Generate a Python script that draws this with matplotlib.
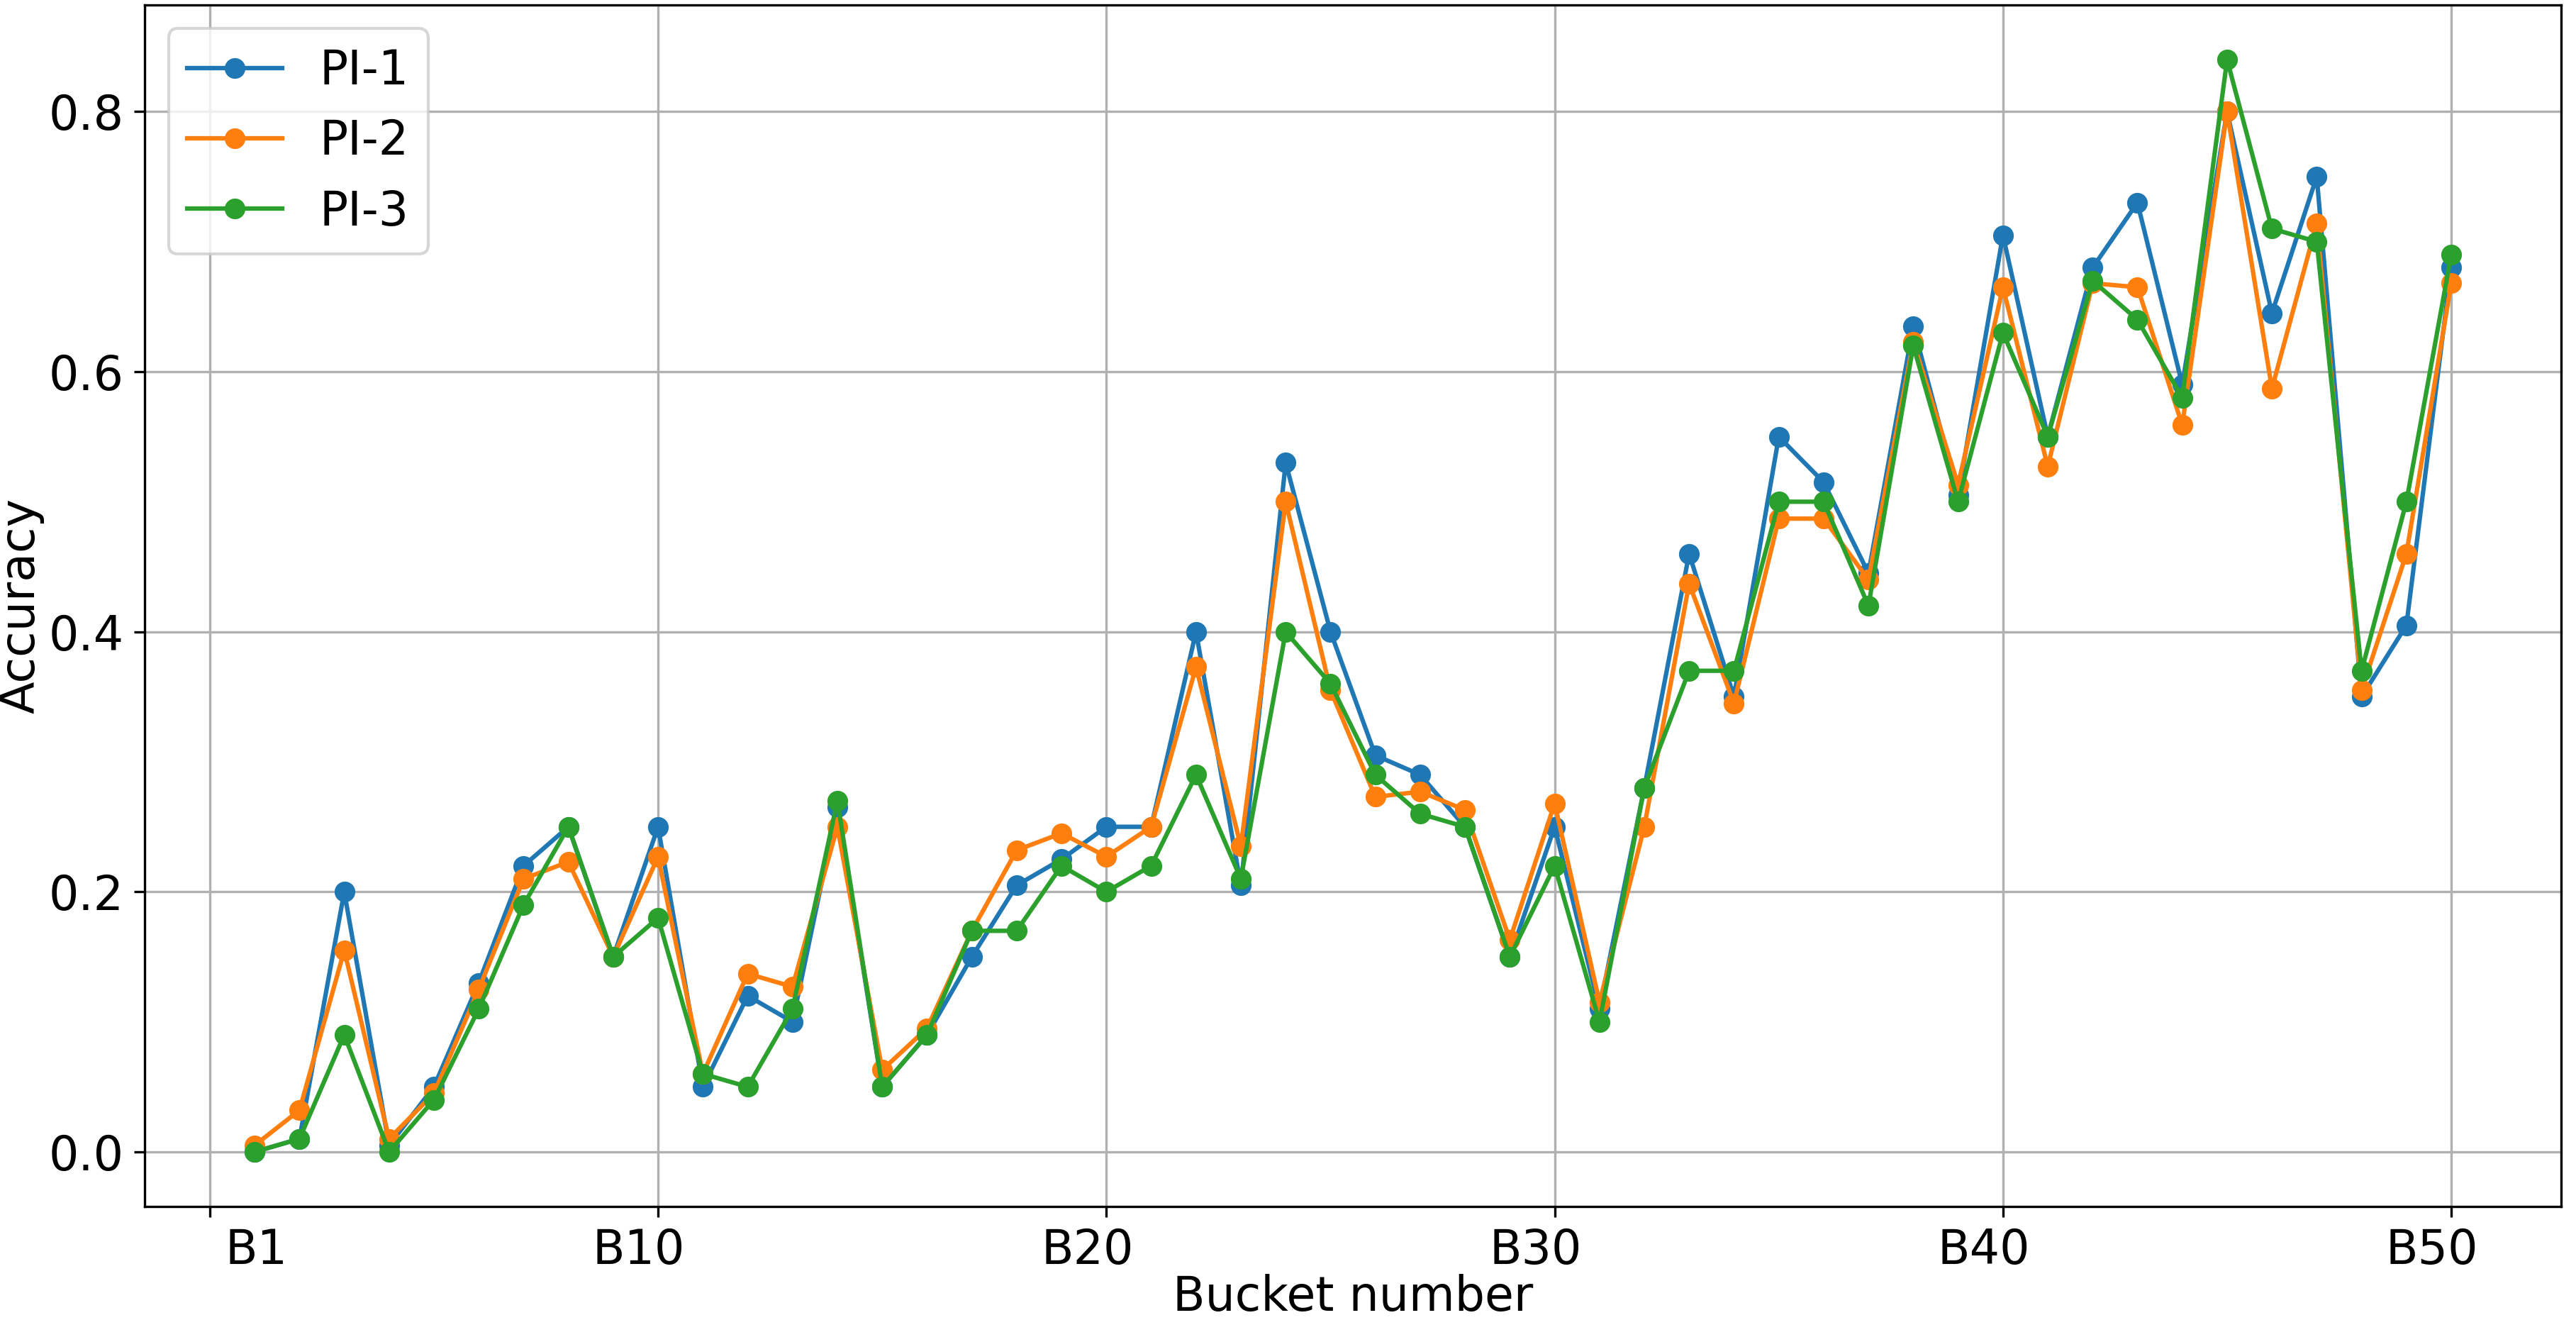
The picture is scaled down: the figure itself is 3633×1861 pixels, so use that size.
import matplotlib
matplotlib.use('Agg')
import matplotlib.pyplot as plt
import matplotlib.transforms as mtransforms

# bucket indices and accuracies
buckets = list(range(1, 51))

pi_1 = [0.0, 0.01, 0.20, 0.005, 0.05, 0.13, 0.22, 0.25, 0.15, 0.25,
        0.05, 0.12, 0.10, 0.265, 0.05, 0.09, 0.15, 0.205, 0.225, 0.25,
        0.25, 0.40, 0.205, 0.53, 0.40, 0.305, 0.29, 0.25, 0.15, 0.25,
        0.11, 0.28, 0.46, 0.35, 0.55, 0.515, 0.445, 0.635, 0.505, 0.705,
        0.55, 0.68, 0.73, 0.59, 0.80, 0.645, 0.75, 0.35, 0.405, 0.68]

pi_2 = [0.005, 0.032, 0.155, 0.01, 0.045, 0.125, 0.21, 0.223, 0.15, 0.227,
        0.06, 0.137, 0.127, 0.25, 0.063, 0.095, 0.17, 0.232, 0.245, 0.227,
        0.25, 0.373, 0.235, 0.50, 0.355, 0.273, 0.277, 0.263, 0.163, 0.268,
        0.115, 0.25, 0.437, 0.345, 0.487, 0.487, 0.44, 0.623, 0.513, 0.665,
        0.527, 0.668, 0.665, 0.559, 0.80, 0.587, 0.714, 0.355, 0.46, 0.668]

pi_3 = [0.0, 0.01, 0.09, 0.0, 0.04, 0.11, 0.19, 0.25, 0.15, 0.18,
        0.06, 0.05, 0.11, 0.27, 0.05, 0.09, 0.17, 0.17, 0.22, 0.20,
        0.22, 0.29, 0.21, 0.40, 0.36, 0.29, 0.26, 0.25, 0.15, 0.22,
        0.10, 0.28, 0.37, 0.37, 0.50, 0.50, 0.42, 0.62, 0.50, 0.63,
        0.55, 0.67, 0.64, 0.58, 0.84, 0.71, 0.70, 0.37, 0.50, 0.69]

tick_pos = [0, 10, 20, 30, 40, 50]
tick_labels = ['B1', 'B10', 'B20', 'B30', 'B40', 'B50']

fig = plt.figure(figsize=(3633 / 300, 1861 / 300), dpi=300)
ax = fig.add_subplot(111)
fig.subplots_adjust(left=0.0562, right=0.9942, top=0.9962, bottom=0.086)

ax.plot(buckets, pi_1, marker='o', label='PI-1')
ax.plot(buckets, pi_2, marker='o', label='PI-2')
ax.plot(buckets, pi_3, marker='o', label='PI-3')

ax.set_xticks(tick_pos)
ax.set_xticklabels(tick_labels, fontsize=16)
ax.tick_params(axis='y', labelsize=16)

# labels in the original sit a bit off their ticks
for i, lab in enumerate(ax.get_xticklabels()):
    dx = 15.8 if i == 0 else -6.5
    off = mtransforms.ScaledTranslation(dx / 72, 0, fig.dpi_scale_trans)
    lab.set_transform(lab.get_transform() + off)

ax.set_xlabel('Bucket number', fontsize=16, labelpad=0)
ax.set_ylabel('Accuracy', fontsize=16, labelpad=1.5)
ax.grid(True)
ax.legend(loc='upper left', fontsize=16)

fig.savefig('out.png', dpi=300)
